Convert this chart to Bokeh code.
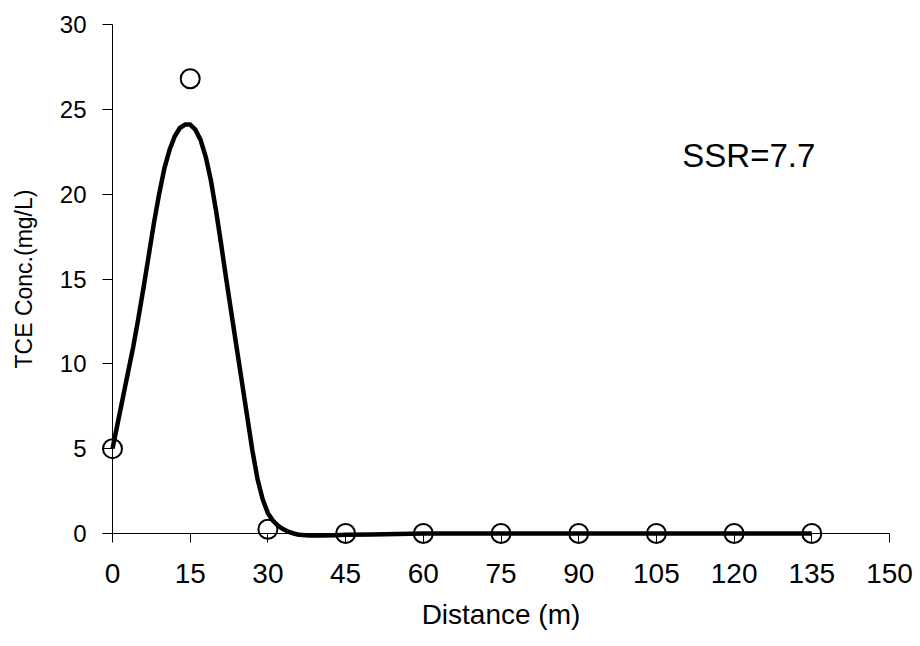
from bokeh.plotting import figure
from bokeh.models import Range1d, FixedTicker, Label
from bokeh.embed import file_html
from bokeh.resources import INLINE

# observed data (circles)
obs_x = [0, 15, 30, 45, 60, 75, 90, 105, 120, 135]
obs_y = [5.0, 26.8, 0.25, 0.0, 0.0, 0.0, 0.0, 0.0, 0.0, 0.0]

# fitted curve
fit_x = [0, 1, 2, 3, 4, 5, 6, 7, 8, 9, 10, 11, 12, 13, 14, 15, 16, 17, 18, 19,
         20, 21, 22, 23, 24, 25, 26, 27, 28, 29, 30, 31, 32, 33, 34, 35, 36,
         38, 40, 43, 45, 50, 55, 60, 75, 90, 105, 120, 135]
fit_y = [5.0, 6.5, 8.0, 9.5, 11.0, 12.7, 14.5, 16.4, 18.3, 20.0, 21.5, 22.6,
         23.4, 23.9, 24.1, 24.1, 23.8, 23.2, 22.2, 20.8, 19.0, 17.0, 14.9,
         12.9, 10.9, 8.9, 6.9, 4.9, 3.2, 2.0, 1.2, 0.75, 0.45, 0.25, 0.1, 0.0,
         -0.08, -0.12, -0.12, -0.1, -0.08, -0.06, -0.03, 0.0, 0.0, 0.0, 0.0,
         0.0, 0.0]

x_ticks = [0, 15, 30, 45, 60, 75, 90, 105, 120, 135, 150]
y_ticks = [0, 5, 10, 15, 20, 25, 30]

x_label = "Distance (m)"
y_label = "TCE Conc.(mg/L)"
annotation = "SSR=7.7"

FONT = "Liberation Sans"

p = figure(width=920, height=646, output_backend="svg", toolbar_location=None,
           x_range=Range1d(0, 150), y_range=Range1d(0, 30),
           min_border_left=112, min_border_right=31, min_border_top=24,
           min_border_bottom=113)
p.outline_line_color = None
p.xgrid.visible = False
p.ygrid.visible = False
p.background_fill_color = "white"
p.border_fill_color = "white"

line_r = p.line(fit_x, fit_y, line_color="black", line_width=4.5,
                line_join="round")
line_r.level = "overlay"
pts = p.scatter(obs_x, obs_y, marker="circle", size=19, fill_color=None,
                line_color="black", line_width=2)
pts.level = "overlay"

for ax in (p.xaxis[0], p.yaxis[0]):
    ax.axis_line_color = "black"
    ax.axis_line_width = 1
    ax.major_tick_line_color = "black"
    ax.minor_tick_line_color = None
    ax.major_tick_in = 0
    ax.major_label_text_font = FONT
    ax.major_label_text_color = "black"
    ax.axis_label_text_font = FONT
    ax.axis_label_text_font_style = "normal"
    ax.axis_label_text_color = "black"

p.xaxis.ticker = FixedTicker(ticks=x_ticks)
p.yaxis.ticker = FixedTicker(ticks=y_ticks)

p.xaxis.major_tick_out = 9
p.xaxis.major_label_text_font_size = "28px"
p.xaxis.major_label_standoff = 21
p.xaxis.axis_label = x_label
p.xaxis.axis_label_text_font_size = "28px"
p.xaxis.axis_label_standoff = 13

p.yaxis.major_tick_out = 10
p.yaxis.major_label_text_font_size = "24px"
p.yaxis.major_label_standoff = 16
p.yaxis.axis_label = y_label
p.yaxis.axis_label_text_font_size = "23px"
p.yaxis.axis_label_standoff = 20

p.add_layout(Label(x=110.0, y=22.3, text=annotation, text_font=FONT,
                   text_font_size="33px", text_color="black",
                   text_baseline="alphabetic"))

open("out.html", "w").write(file_html(p, INLINE))
